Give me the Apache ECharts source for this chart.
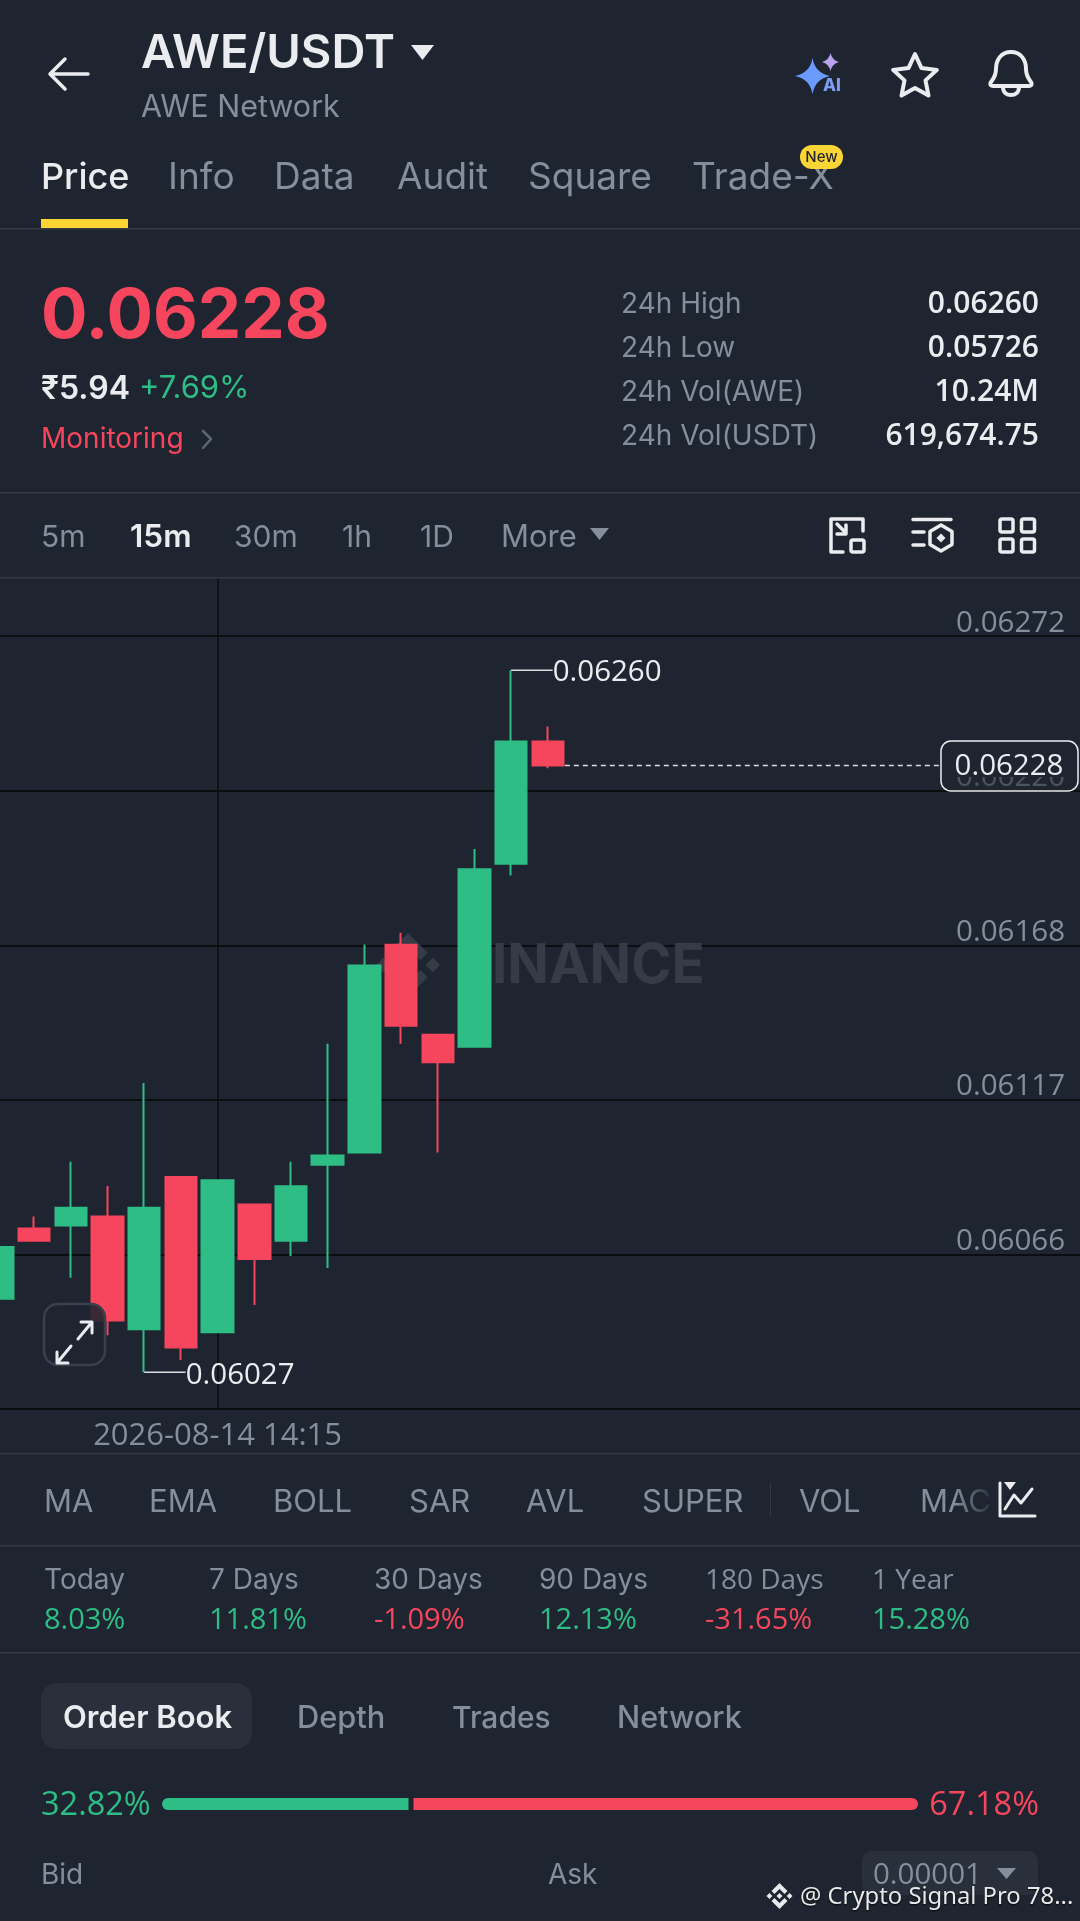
<!DOCTYPE html>
<html><head><meta charset="utf-8">
<style>html,body{margin:0;padding:0;background:#1F2530}#c{width:1080px;height:1921px}</style>
<script src="https://cdn.jsdelivr.net/npm/echarts@6/dist/echarts.min.js"></script>
</head><body><div id="c"></div>
<script>
// ---- data ----
const categories = ['12:45','13:00','13:15','13:30','13:45','14:00','14:15','14:30','14:45','15:00','15:15','15:30','15:45','16:00','16:15','16:30','','','','','','','','','','','','','',''];
const fullTimeLabel = '2026-08-14 14:15';
const opens  = [0.060514,0.060747,0.060757,0.060787,0.060413,0.060918,0.060403,0.060827,0.060706,0.060959,0.060999,0.061689,0.061390,0.061350,0.061958,0.062363];
const closes = [0.060686,0.060706,0.060816,0.060442,0.060816,0.060352,0.060907,0.060646,0.060887,0.060989,0.061620,0.061420,0.061299,0.061939,0.062363,0.062284];
const lows   = [0.060514,0.060706,0.060584,0.060393,0.060270,0.060311,0.060403,0.060493,0.060656,0.060616,0.060999,0.061360,0.060999,0.061350,0.061919,0.062275];
const highs  = [0.060751,0.060787,0.060969,0.060888,0.061230,0.060918,0.060907,0.060827,0.060969,0.061360,0.061690,0.061729,0.061390,0.062007,0.062600,0.062413];
const yTickValues = [0.062713,0.062200,0.061687,0.061174,0.060661,0.060148];
const yTickLabels = ['0.06272','0.06220','0.06168','0.06117','0.06066',''];
const highMark = [14, 0.06260], lowMark = [4, 0.06027], lastMark = [15, 0.062284];
const lastPriceText = '0.06228';
const crossIndex = 6;
const tabs = ['Price','Info','Data','Audit','Square','Trade-X'];
const intervals = ['5m','15m','30m','1h','1D','More'];
const stats = [['24h High','0.06260'],['24h Low','0.05726'],['24h Vol(AWE)','10.24M'],['24h Vol(USDT)','619,674.75']];
const indicators = ['MA','EMA','BOLL','SAR','AVL','SUPER','VOL','MAC'];
const periodNames = ['Today','7 Days','30 Days','90 Days','180 Days','1 Year'];
const periodValues = [8.03,11.81,-1.09,12.13,-31.65,15.28];
const bookTabs = ['Order Book','Depth','Trades','Network'];
const bidPct = 32.82, askPct = 67.18;

// ---- style ----
const BG='#1F2530', GRAY='#848E9C', WHITE='#EAECEF', GREEN='#2EBD85', RED='#F6465D', LINE='#333A45', GRID='#0B0E11', CHIP='#2A303B', YEL='#FCD535';
const FF='Inter', NF='"Open Sans"';
const g=[], iconsTop=[], iconsBack=[];
function T(x,y,text,size,fill,weight,align,fam){g.push({type:'text',z:10,x:x,y:y,style:{text:text,fill:fill||GRAY,font:(weight||400)+' '+size+'px '+(fam||FF),align:align||'left',textAlign:align||'left',verticalAlign:'middle',textVerticalAlign:'middle'}});}
function R(x,y,w,h,fill,r,z){g.push({type:'rect',z:z||9,shape:{x:x,y:y,width:w,height:h,r:r||0},style:{fill:fill}});}
function P(d,stroke,w,fill){iconsTop.push({type:'path',shape:{pathData:d},style:{stroke:stroke||'none',lineWidth:w||0,fill:fill||'none',lineCap:'round',lineJoin:'round'}});}
function logo(list,cx,cy,size,fill){const s=size/126.6;list.push({type:'path',x:cx-size/2,y:cy-size/2,scaleX:s,scaleY:s,shape:{pathData:'M38.73 53.2L63.3 28.63 87.88 53.21 102.17 38.92 63.3 .05 24.43 38.91ZM0 63.3L14.29 49 28.58 63.3 14.29 77.59ZM38.73 73.4L63.3 97.97 87.88 73.39 102.18 87.67 63.3 126.55 24.43 87.69ZM98.02 63.3L112.31 49.01 126.6 63.3 112.31 77.59ZM77.8 63.3L63.3 48.8 48.8 63.3 63.3 77.8Z'},style:{fill:fill}});}

// header
P('M88 74H51M65 59L50 74L65 89','#EAECEF',3.5);
T(141,54,'AWE/USDT',47,WHITE,600);
P('M411 45H434L422.5 60Z',null,0,WHITE);
T(141,107.5,'AWE Network',30.5,GRAY,400);
P('M812.5 58Q815 73 830 76Q815 79 812.5 94Q810 79 795 76Q810 73 812.5 58Z',null,0,'#6B9BFF');
P('M830.5 53Q832 60 839 62Q832 64 830.5 71Q829 64 822 62Q829 60 830.5 53Z',null,0,'#B9A2EE');
T(823,86,'AI',17,'#7E9CF0',800);
(function(){let d='';const cx=915,cy=77,Ro=23,Ri=11;for(let i=0;i<10;i++){const r=i%2?Ri:Ro,a=-Math.PI/2+i*Math.PI/5;d+=(i?'L':'M')+(cx+r*Math.cos(a)).toFixed(1)+' '+(cy+r*Math.sin(a)).toFixed(1);}P(d+'Z','#EAECEF',4);})();
P('M1011 52C1001 52 996 60 996 69C996 77 992 80 990.5 83C990 85 991 86 993 86H1029C1031 86 1032 85 1031.5 83C1030 80 1026 77 1026 69C1026 60 1021 52 1011 52ZM1003 87C1003 93 1007 95 1011 95C1015 95 1019 93 1019 87','#EAECEF',4);
// tabs
const tabX=[41,168,274,397,528,692];
tabs.forEach((s,i)=>T(tabX[i],178,s,i?37:36,i?GRAY:WHITE,i?400:500));
R(800,145,43,24,YEL,12,11);
T(821.5,157,'New',15,'#1E2329',500,'center');g[g.length-1].z=12;
R(41,219,87,9,YEL,0);
R(0,228,1080,1.5,LINE);
// price block
T(41,317,'0.06228',69,RED,700);
T(41,389,'₹5.94',32,WHITE,600);
T(139,389,'+7.69%',31,GREEN,400);
T(41,440,'Monitoring',28,RED,400);
P('M203 431L211 439L203 448','#5E6673',2.5);
const statY=[304.5,348.5,392.3,436.5];
stats.forEach((s,i)=>{T(621,statY[i],s[0],28,GRAY,400);T(1039,statY[i],s[1],30,WHITE,600,'right',NF);});
R(0,492,1080,1.5,LINE);
// intervals
const intX=[41,130,234,342,420,501];
intervals.forEach((s,i)=>T(intX[i],538,s,i==5?31:(i==1?31.5:30),i==1?WHITE:GRAY,i==1?600:400,i==5?FF:NF));
P('M590 528H609L599.5 540Z',null,0,GRAY);
P('M843 552H831V519H863V531','#EAECEF',3.5);
P('M837 524L846 533M846 525V534H837','#EAECEF',3.5);
g.push({type:'rect',z:10,shape:{x:851,y:540,width:13,height:12,r:2},style:{fill:'none',stroke:'#EAECEF',lineWidth:3.5}});
P('M913 519.5H951M913 532H924M913 545H924','#EAECEF',3.5);
P('M941 525L952 531.5V544.5L941 551L930 544.5V531.5Z','#EAECEF',3.5);
P('M941 533.5L945.5 538L941 542.5L936.5 538Z',null,0,'#EAECEF');
[[1000,519],[1021.5,519],[1000,539],[1021.5,539]].forEach(p=>g.push({type:'rect',z:10,shape:{x:p[0],y:p[1],width:13,height:13,r:2},style:{fill:'none',stroke:'#EAECEF',lineWidth:3.5}}));
R(0,577,1080,1.5,LINE);
// watermark in chart
logo(iconsBack,408,965,64,'#363C46');
g.push({type:'text',z:1,x:456,y:967,style:{text:'BINANCE',fill:'#363C46',font:'700 54.5px '+FF,align:'left',textAlign:'left',verticalAlign:'middle',textVerticalAlign:'middle'}});
// expand button
g.push({type:'rect',z:10,shape:{x:44,y:1304,width:61,height:61,r:14},style:{fill:'rgba(31,37,48,0.88)',stroke:'#3A404B',lineWidth:2.5}});
P('M78 1339L92 1322M81 1322H92V1333M71 1346L57 1363M68 1363H57V1352','#EAECEF',3);
// bottom panels
R(0,1453,1080,1.5,LINE);
const indX=[44,149,273,409,526,642,799,920];
indicators.forEach((s,i)=>T(indX[i],1503,s,31,GRAY,400));
R(770,1483,1,33,LINE);
g.push({type:'rect',z:11,shape:{x:955,y:1480,width:40,height:42},style:{fill:{type:'linear',x:0,y:0,x2:1,y2:0,colorStops:[{offset:0,color:'rgba(31,37,48,0)'},{offset:1,color:'rgba(31,37,48,1)'}]}}});
P('M1000 1483V1516H1035M1005 1509L1014 1495L1021 1503L1032 1489','#EAECEF',3);
P('M1004 1482H1016L1010 1490Z',null,0,'#EAECEF');
R(0,1545,1080,1.5,LINE);
const perX=[44,209,374,539,705,872];
periodNames.forEach((s,i)=>{T(perX[i],1581,s,28,GRAY,400,'left',/1/.test(s)?NF:FF);
  const v=periodValues[i];T(perX[i],1621,(v<0?'-':'')+Math.abs(v).toFixed(2)+'%',29,v<0?RED:GREEN,400,'left',NF);});
R(0,1652,1080,1.5,LINE);
R(41,1683,211,66,CHIP,16);
const bookX=[63,297,452,617];
const bookSize=[31,30.8,30,30.6];
bookTabs.forEach((s,i)=>T(bookX[i],1718.5,s,bookSize[i],i?GRAY:WHITE,i?500:600));
T(41,1806,bidPct.toFixed(2)+'%',32.5,GREEN,400,'left',NF);
T(1039,1806,askPct.toFixed(2)+'%',32.5,RED,400,'right',NF);
const barL=162,barR=918,gap=5,greenW=(barR-barL-gap)*bidPct/100;
R(barL,1798,greenW,12,GREEN,[6,0,0,6]);
R(barL+greenW+gap,1798,barR-barL-greenW-gap,12,RED,[0,6,6,0]);
T(41,1876,'Bid',28,GRAY,400);
T(548,1876,'Ask',28,GRAY,400);
R(862,1851,176,44,CHIP,10);
T(873,1876,'0.00001',29.5,GRAY,400,'left',NF);
P('M997 1868H1016L1006.5 1879Z',null,0,GRAY);
logo(iconsTop,779.5,1896,26,'#E8E9EC');
g.push({type:'text',z:13,x:800,y:1897,style:{text:'@ Crypto Signal Pro 78...',fill:'#E8E9EC',font:'400 23.8px "Noto Sans"',align:'left',textAlign:'left',verticalAlign:'middle',textVerticalAlign:'middle',textShadowColor:'#000',textShadowBlur:2,textShadowOffsetY:1}});

const chart=echarts.init(document.getElementById('c'),null,{renderer:'canvas',width:1080,height:1921});
function markItem(params,api){
  const p=api.coord([api.value(0),api.value(1)]);
  const x2=p[0]+41.5;
  const dy=api.value(1)<0.0615?3.5:2;
  return {type:'group',children:[
    {type:'line',shape:{x1:p[0],y1:p[1],x2:x2,y2:p[1]},style:{stroke:'#D9DBDF',lineWidth:1.5}},
    {type:'text',style:{x:x2,y:p[1]+dy,text:api.value(1).toFixed(5),fill:WHITE,font:'400 29.5px '+NF,align:'left',verticalAlign:'middle'}}
  ]};
}
function lastItem(params,api){
  const p=api.coord([api.value(0),api.value(1)]);
  return {type:'group',children:[
    {type:'line',shape:{x1:p[0]+17,y1:p[1],x2:941,y2:p[1]},style:{stroke:'#D9DBDF',lineWidth:1.5,lineDash:[5,4]}},
    {type:'rect',shape:{x:941,y:741,width:137,height:50,r:10},style:{fill:'rgba(31,37,48,0.55)',stroke:'#EAECEF',lineWidth:1.5}},
    {type:'rect',shape:{x:950,y:747,width:120,height:30},style:{fill:BG}},
    {type:'text',style:{x:1009,y:p[1]+1.5,text:lastPriceText,fill:WHITE,font:'400 29.5px '+NF,align:'center',verticalAlign:'middle'}}
  ]};
}
chart.setOption({
  animation:false,backgroundColor:BG,
  grid:{left:-21,top:577.4,width:1101,height:831.6,containLabel:false,outerBoundsMode:'none'},
  xAxis:{type:'category',data:categories,boundaryGap:true,
    axisLine:{show:true,lineStyle:{color:GRID,width:2}},
    axisTick:{show:false,customValues:[crossIndex],alignWithLabel:true},
    axisLabel:{show:true,customValues:[crossIndex],formatter:()=>fullTimeLabel,color:GRAY,fontSize:31,fontFamily:NF,margin:12},
    splitLine:{show:true,alignWithLabel:true,lineStyle:{color:GRID,width:1.5}}},
  yAxis:{type:'value',position:'right',min:yTickValues[5],max:0.062908,
    axisLine:{show:false},
    axisTick:{show:false,customValues:yTickValues},
    axisLabel:{show:true,inside:true,margin:15,customValues:yTickValues.slice(0,5),verticalAlign:'bottom',lineHeight:26,color:GRAY,fontSize:29.5,fontFamily:NF,
      formatter:v=>yTickLabels[yTickValues.indexOf(v)]||''},
    splitLine:{show:true,lineStyle:{color:GRID,width:2}}},
  graphic:{elements:g},
  series:[
    {type:'custom',coordinateSystem:'none',z:1,silent:true,data:[0],renderItem:()=>({type:'group',children:iconsBack})},
    {type:'candlestick',z:2,barWidth:32,data:opens.map((o,i)=>[o,closes[i],lows[i],highs[i]]),
      itemStyle:{color:GREEN,color0:RED,borderColor:GREEN,borderColor0:RED,borderWidth:2}},
    {type:'custom',z:5,clip:false,silent:true,data:[highMark,lowMark],encode:{x:0,y:1},renderItem:markItem},
    {type:'custom',z:5,clip:false,silent:true,data:[lastMark],encode:{x:0,y:1},renderItem:lastItem},
    {type:'custom',coordinateSystem:'none',z:20,silent:true,data:[0],renderItem:()=>({type:'group',children:iconsTop})}
  ]
});
</script></body></html>
